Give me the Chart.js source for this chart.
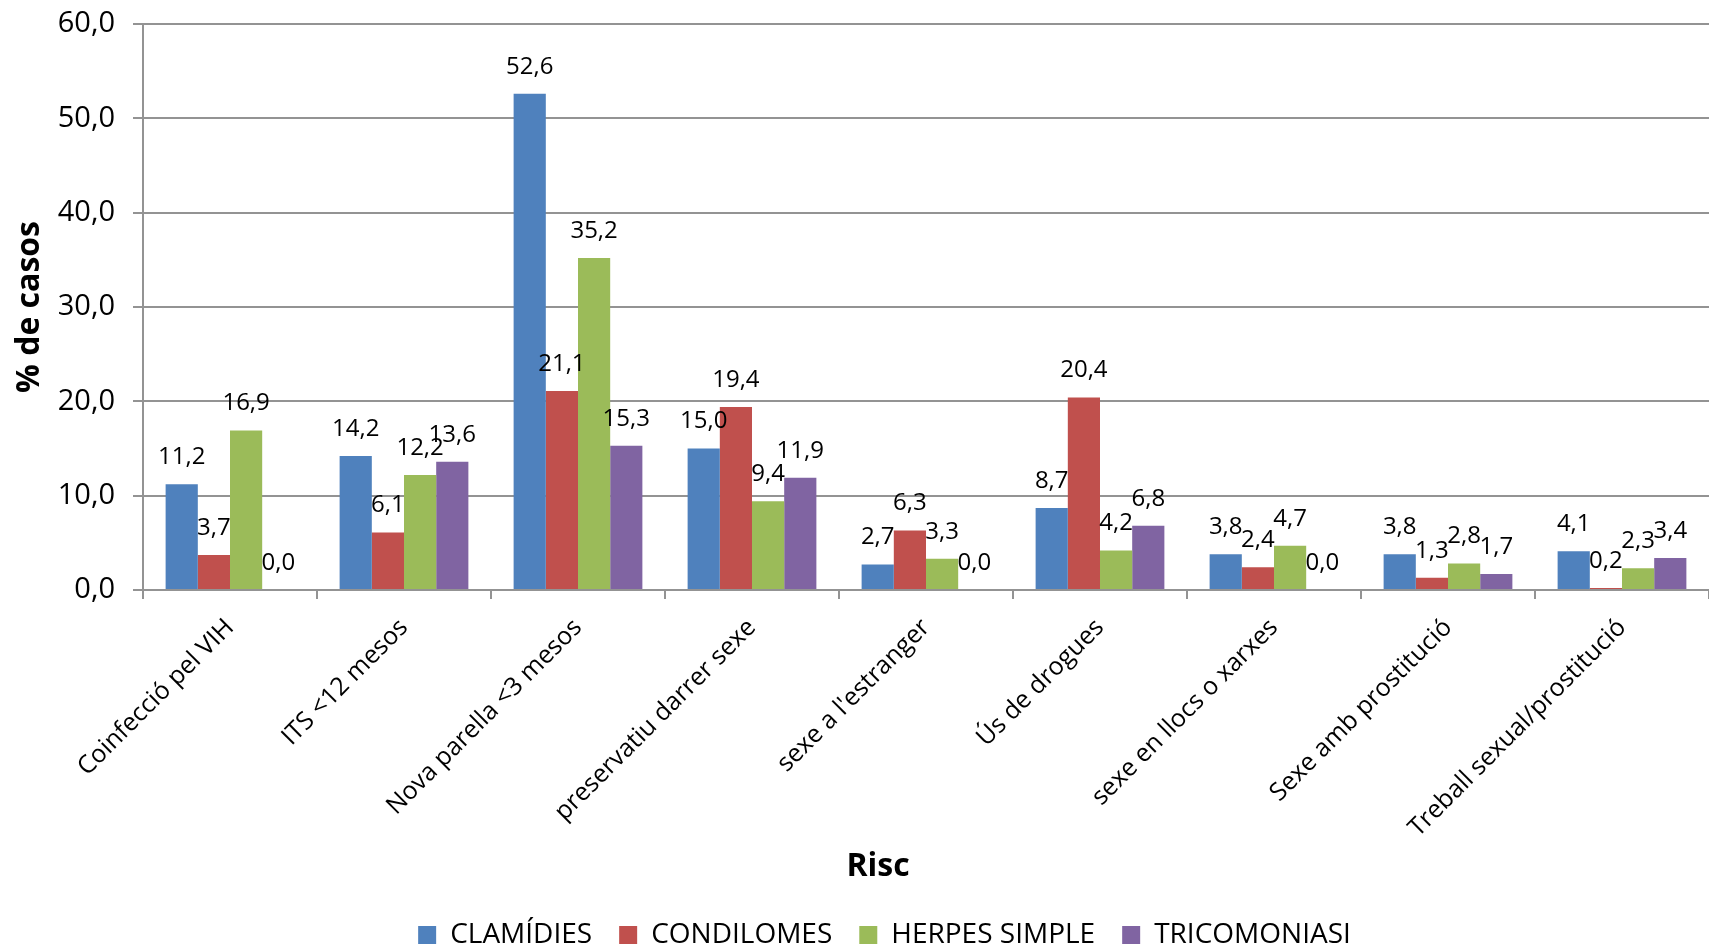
<!DOCTYPE html>
<html>
<head>
<meta charset="utf-8">
<script src="https://cdn.jsdelivr.net/npm/chart.js@4.4.0/dist/chart.umd.min.js"></script>
<style>
html,body{margin:0;padding:0;background:#fff;}
#wrap{width:1709px;height:947px;}
</style>
</head>
<body>
<div id="wrap"><canvas id="grafic" width="1709" height="947"></canvas></div>
<script>
let categories = ["Coinfecció pel VIH","ITS <12 mesos","Nova parella <3 mesos","preservatiu darrer sexe","sexe a l'estranger","Ús de drogues","sexe en llocs o xarxes","Sexe amb prostitució","Treball sexual/prostitució"];
let clamidies = [11.2,14.2,52.6,15.0,2.7,8.7,3.8,3.8,4.1];
let condilomes = [3.7,6.1,21.1,19.4,6.3,20.4,2.4,1.3,0.2];
let herpes = [16.9,12.2,35.2,9.4,3.3,4.2,4.7,2.8,2.3];
let tricomoniasi = [0.0,13.6,15.3,11.9,0.0,6.8,0.0,1.7,3.4];
let yTicks = [0,10,20,30,40,50,60];

let font = "'Open Sans', 'DejaVu Sans', sans-serif";
let gris = '#939393';

function coma(v){ return Number(v).toFixed(1).replace('.', ','); }

// etiquetes de valor a sobre de cada barra + titol "Risc"
let etiquetes = {
  id:'etiquetes',
  afterLayout(chart){
    // la llegenda de l'original esta una mica desplaçada a la dreta
    chart.legend.left += 30;
    chart.legend.right += 30;
  },
  afterDatasetsDraw(chart){
    let ctx = chart.ctx;
    ctx.save();
    ctx.font = "24px " + font;
    ctx.fillStyle = '#000';
    ctx.textAlign = 'center';
    ctx.textBaseline = 'middle';
    chart.data.datasets.forEach((ds,i)=>{
      chart.getDatasetMeta(i).data.forEach((bar,j)=>{
        ctx.fillText(coma(ds.data[j]), bar.x, bar.y - 27);
      });
    });
    let a = chart.chartArea;
    ctx.font = "bold 32px " + font;
    ctx.fillText('Risc', (a.left + a.right)/2 - 48, 867);
    ctx.restore();
  }
};

new Chart(document.getElementById("grafic"),{
  type:'bar',
  data:{
    labels:categories,
    datasets:[
      {label:'CLAMÍDIES', data:clamidies, backgroundColor:'#4F81BD'},
      {label:'CONDILOMES', data:condilomes, backgroundColor:'#C0504D'},
      {label:'HERPES SIMPLE', data:herpes, backgroundColor:'#9BBB59'},
      {label:'TRICOMONIASI', data:tricomoniasi, backgroundColor:'#8064A2'}
    ]
  },
  options:{
    responsive:false,
    animation:false,
    layout:{padding:{top:24,right:0,left:0,bottom:-12}},
    datasets:{bar:{categoryPercentage:0.74, barPercentage:1.0}},
    plugins:{
      tooltip:{enabled:false},
      legend:{
        position:'bottom',
        labels:{
          font:{family:font, size:28},
          color:'#000',
          boxWidth:18,
          boxHeight:18,
          padding:27
        }
      }
    },
    scales:{
      x:{
        grid:{display:true, drawOnChartArea:false, color:gris, lineWidth:2, tickLength:9, offset:true},
        border:{color:gris, width:2},
        ticks:{font:{family:font, size:25}, color:'#000', minRotation:45, maxRotation:45, padding:14},
        afterFit(scale){ scale.height = 304; }
      },
      y:{
        min:0, max:60,
        afterBuildTicks(scale){ scale.ticks = yTicks.map(v=>({value:v})); },
        grid:{color:gris, lineWidth:2, tickLength:10},
        border:{color:gris, width:2},
        ticks:{font:{family:font, size:29}, color:'#000', padding:18, callback:v=>coma(v)},
        title:{display:true, text:'% de casos', font:{family:font, size:32, weight:'bold'}, color:'#000', padding:{top:11, bottom:0}},
        afterFit(scale){ scale.width = 143; scale.paddingTop = 0; }
      }
    }
  },
  plugins:[etiquetes]
});
</script>
</body>
</html>
